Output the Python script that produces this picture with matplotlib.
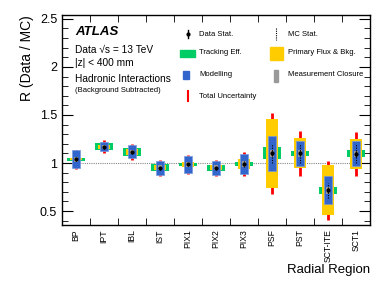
import matplotlib
matplotlib.use("Agg")
import matplotlib.pyplot as plt
from matplotlib.patches import Rectangle
from matplotlib.lines import Line2D
import numpy as np

plt.rcParams['font.family'] = ['Liberation Sans', 'DejaVu Sans']

categories = ["BP", "IPT", "IBL", "IST", "PIX1", "PIX2", "PIX3", "PSF", "PST", "SCT-ITE", "SCT1"]
ratio      = [1.04, 1.17, 1.115, 0.95, 0.985, 0.95, 0.99, 1.10, 1.10, 0.715, 1.095]
data_stat  = [0.01, 0.01, 0.01, 0.01, 0.01, 0.01, 0.01, 0.03, 0.03, 0.03, 0.03]
mc_stat    = [0.02, 0.02, 0.02, 0.02, 0.02, 0.02, 0.03, 0.10, 0.10, 0.08, 0.10]
tracking   = [0.016, 0.035, 0.04, 0.038, 0.016, 0.03, 0.02, 0.0625, 0.028, 0.036, 0.036]
primary    = [0.01, 0.02, 0.03, 0.025, 0.026, 0.025, 0.05, 0.355, 0.156, 0.26, 0.156]
modelling  = [0.097, 0.045, 0.068, 0.07, 0.09, 0.07, 0.107, 0.18, 0.13, 0.146, 0.13]
closure    = [0.025, 0.02, 0.025, 0.025, 0.03, 0.025, 0.03, 0.035, 0.035, 0.035, 0.035]
total      = [0.10, 0.07, 0.087, 0.083, 0.097, 0.083, 0.127, 0.425, 0.235, 0.31, 0.23]

GREEN = "#00cc66"
YELLOW = "#ffcc00"
BLUE = "#3366cc"
GRAY = "#999999"
RED = "#ff0000"

fig = plt.figure(figsize=(3.9, 2.82), dpi=100)
ax = fig.add_axes([62/390, 1-225/282, (370-62)/390, (225-15)/282])

x = np.arange(len(categories))
r = np.array(ratio)

ax.axhline(1.0, color="#888888", ls=(0, (1, 1)), lw=0.8, zorder=1)
ax.vlines(x, r - np.array(total), r + np.array(total), color=RED, lw=2.0, zorder=2)
ax.bar(x, 2*np.array(tracking), bottom=r-np.array(tracking), width=0.66, color=GREEN, zorder=3)
ax.bar(x, 2*np.array(primary), bottom=r-np.array(primary), width=0.46, color=YELLOW, zorder=4)
ax.bar(x, 2*np.array(modelling), bottom=r-np.array(modelling), width=0.32, color=BLUE,
       edgecolor="#7799dd", lw=0.5, zorder=5)
ax.bar(x, 2*np.array(closure), bottom=r-np.array(closure), width=0.14, color=GRAY, zorder=6)
ax.vlines(x, r - np.array(mc_stat), r + np.array(mc_stat), color="black", lw=0.8,
          ls=(0, (1, 1.2)), zorder=7)
ax.errorbar(x, r, yerr=data_stat, fmt="o", color="black", ms=2, lw=1.0, capsize=0, zorder=8)

ax.set_xlim(-0.5, len(categories) - 0.5)
ax.set_ylim(0.355, 2.54)
ax.set_xticks(x)
ax.set_xticklabels(categories, rotation=90, fontsize=6.2)
ax.set_xticks(np.arange(-0.5, len(categories)), minor=True)
ax.tick_params(axis="x", which="major", length=0, pad=3)
ax.tick_params(axis="x", which="minor", length=5, direction="in", top=True, bottom=True)
ax.set_yticks([0.5, 1, 1.5, 2, 2.5])
ax.set_yticklabels(["0.5", "1", "1.5", "2", "2.5"], fontsize=9)
ax.set_yticks(np.arange(0.4, 2.55, 0.1), minor=True)
ax.tick_params(axis="y", which="major", length=8, direction="in", left=True, right=True)
ax.tick_params(axis="y", which="minor", length=4, direction="in", left=True, right=True)
for s in ax.spines.values():
    s.set_linewidth(1.0)

ax.set_ylabel("R (Data / MC)", fontsize=10, loc="top", labelpad=4)
fig.text(370/390, 1-270/282, "Radial Region", ha="right", va="center", fontsize=9.5)

# Text annotations
fig.text(75/390, 1-32/282, "ATLAS", fontsize=9.5, fontweight="bold", fontstyle="italic", va="center")
fig.text(75/390, 1-50/282, "Data \u221as = 13 TeV", fontsize=7.3, va="center")
fig.text(75/390, 1-63/282, "|z| < 400 mm", fontsize=7.3, va="center")
fig.text(75/390, 1-79/282, "Hadronic Interactions", fontsize=7.3, va="center")
fig.text(75/390, 1-90/282, "(Background Subtracted)", fontsize=5.5, va="center")

# Legend (manual)
def fx(px):
    return px / 390
def fy(py):
    return 1 - py / 282

rows = [34, 53, 75, 96]
# column 1
fig.add_artist(Line2D([fx(188), fx(188)], [fy(30), fy(38)], color="black", lw=1.0))
fig.add_artist(Line2D([fx(188)], [fy(34)], marker="o", ms=2, color="black"))
fig.add_artist(Rectangle((fx(180), fy(56.5)), fx(15), 7/282, color=GREEN))
fig.add_artist(Rectangle((fx(183), fy(79)), fx(6), 8/282, color=BLUE))
fig.add_artist(Line2D([fx(188), fx(188)], [fy(91), fy(101)], color=RED, lw=1.5))
for t, yy in zip(["Data Stat.", "Tracking Eff.", "Modelling", "Total Uncertainty"], rows):
    fig.text(fx(199), fy(yy), t, fontsize=5.5, va="center")
# column 2
fig.add_artist(Line2D([fx(276), fx(276)], [fy(28), fy(40)], color="black", lw=0.8, ls=(0, (1, 1))))
fig.add_artist(Rectangle((fx(270), fy(60)), fx(13), 13/282, color=YELLOW))
fig.add_artist(Rectangle((fx(274), fy(82)), fx(4), 12/282, color=GRAY))
for t, yy in zip(["MC Stat.", "Primary Flux & Bkg.", "Measurement Closure"], rows[:3]):
    fig.text(fx(288), fy(yy), t, fontsize=5.5, va="center")

fig.savefig("out.png", dpi=100)
